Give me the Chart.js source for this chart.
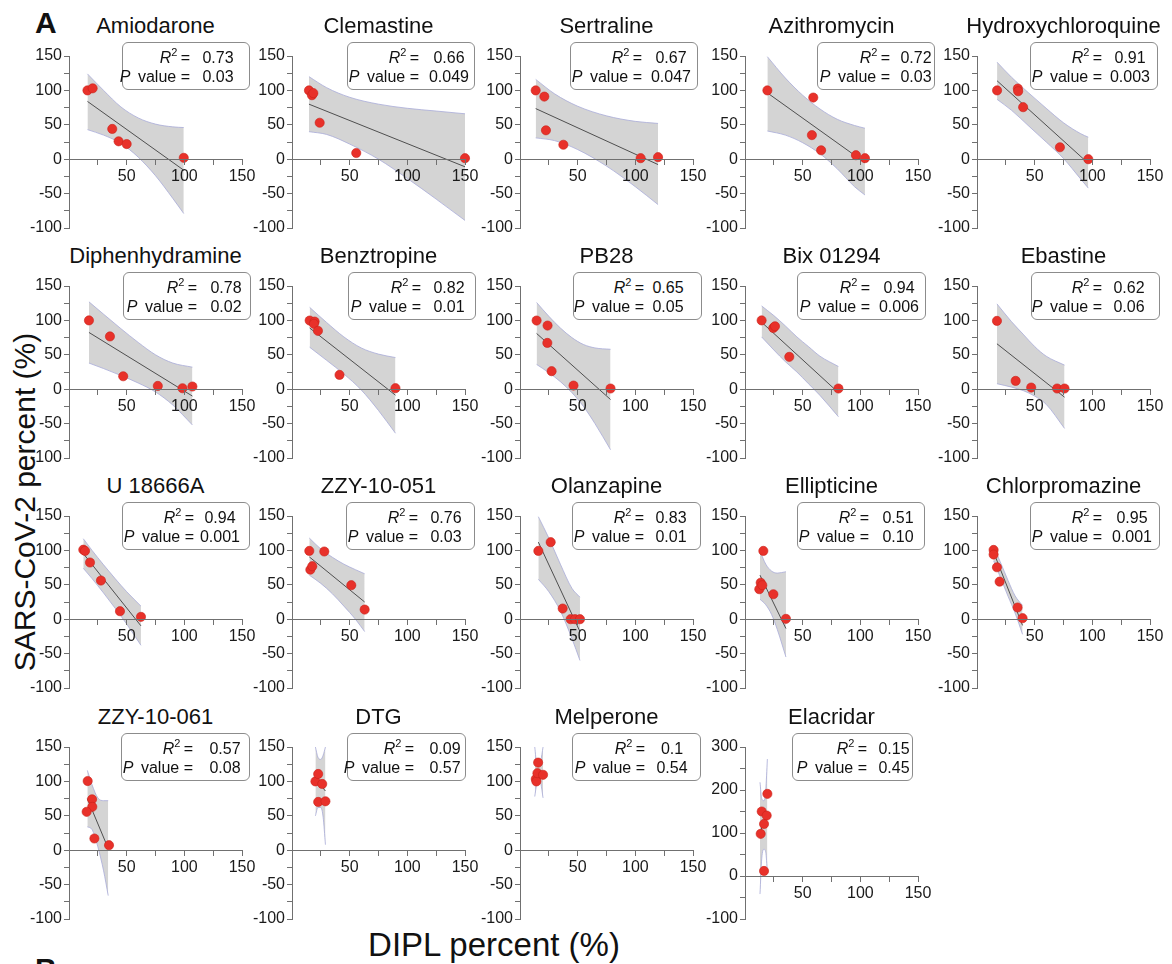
<!DOCTYPE html>
<html>
<head>
<meta charset="utf-8">
<script src="https://cdn.jsdelivr.net/npm/chart.js@4.4.1/dist/chart.umd.min.js"></script>
<style>
  html, body { margin: 0; padding: 0; background: #fff; }
  body { width: 1172px; height: 964px; overflow: hidden; position: relative;
         font-family: 'Liberation Sans', Arial, Helvetica, sans-serif; color: #111; }
  canvas.panel { position: absolute; }
  .title { position: absolute; width: 240px; text-align: center; font-size: 22px; line-height: 22px; white-space: nowrap; }
  .statbox { position: absolute; box-sizing: border-box; height: 48px; border: 1px solid #8c8c8c; border-radius: 6px; background: #fff; font-size: 16px; }
  .statrow { position: absolute; left: 0; right: 0; height: 19px; line-height: 19px; white-space: nowrap; }
  .lab { position: absolute; top: 0; }
  .val { position: absolute; top: 0; width: 60px; text-align: center; }
  .sup { font-size: 11px; position: relative; top: -7px; }
  .letter { position: absolute; font-weight: bold; font-size: 30px; line-height: 30px; }
  .ylab { position: absolute; font-size: 30px; line-height: 30px; white-space: nowrap; transform: translate(-50%, -50%) rotate(-90deg); }
  .xlab { position: absolute; font-size: 33px; line-height: 33px; white-space: nowrap; transform: translate(-50%, -50%); }
</style>
</head>
<body>
<div class="letter" style="left:35px; top:8px;">A</div>
<div class="letter" style="left:35px; top:954px;">B</div>
<div class="ylab" style="left:25px; top:502px;">SARS-CoV-2 percent (%)</div>
<div class="xlab" style="left:494px; top:944px;">DIPL percent (%)</div>
<script>
// ---------------- data ----------------
const drugNames = ['Amiodarone', 'Clemastine', 'Sertraline', 'Azithromycin', 'Hydroxychloroquine',
  'Diphenhydramine', 'Benztropine', 'PB28', 'Bix 01294', 'Ebastine',
  'U 18666A', 'ZZY-10-051', 'Olanzapine', 'Ellipticine', 'Chlorpromazine',
  'ZZY-10-061', 'DTG', 'Melperone', 'Elacridar'];
const r2Text = ['0.73', '0.66', '0.67', '0.72', '0.91', '0.78', '0.82', '0.65', '0.94', '0.62',
  '0.94', '0.76', '0.83', '0.51', '0.95', '0.57', '0.09', '0.1', '0.15'];
const pText = ['0.03', '0.049', '0.047', '0.03', '0.003', '0.02', '0.01', '0.05', '0.006', '0.06',
  '0.001', '0.03', '0.01', '0.10', '0.001', '0.08', '0.57', '0.54', '0.45'];

const xTickLabels = [50, 100, 150];
const yTickLabels = [-100, -50, 0, 50, 100, 150];
const yTickLabelsElacridar = [-100, 0, 100, 200, 300];

// DIPL percent (x) of each measured drug concentration
const pointsX = [
  [16, 20.5, 37.5, 43, 50, 99.5],
  [14.7, 17.3, 18.5, 24, 55.7, 150],
  [13.6, 21.1, 22.5, 37.6, 104.6, 119.7],
  [19.4, 59.2, 58, 66, 96.2, 104],
  [17.4, 35.4, 35.7, 40, 71.9, 96.5],
  [17.3, 35.5, 47, 77, 98.4, 107],
  [15.3, 19.6, 19, 22.5, 41.2, 89.7],
  [14.4, 23.9, 23.7, 27.4, 46.4, 78.5],
  [14.4, 24.5, 26, 38.4, 81],
  [17.3, 33.5, 47, 69.5, 75.9],
  [12.4, 13.9, 18.2, 27.7, 44.2, 62.4],
  [15, 15.9, 17.6, 28, 51.4, 63],
  [15.9, 26.6, 37, 43.9, 47.7, 52],
  [15.9, 13.6, 12.4, 15, 24.6, 35.5],
  [14.4, 14.4, 17.3, 19.6, 35.2, 39.5],
  [16.2, 20, 20.2, 15.3, 22, 34.7],
  [20.3, 22.7, 26.2, 22.7, 29],
  [13.7, 14.2, 15.7, 15.1, 20],
  [13.6, 14.5, 18.8, 16.5, 19.4, 16.5]
];
// SARS-CoV-2 percent (y)
const pointsY = [
  [100, 103, 44, 26, 22, 2],
  [100, 93, 96, 53, 9, 1.5],
  [100, 91, 42, 21, 1.5, 3],
  [100, 89.6, 35, 13, 5.8, 1.5],
  [100, 102.7, 98.8, 75.6, 17.4, 0],
  [100, 76.7, 18.8, 4.8, 1.4, 3.9],
  [99.8, 98.3, 95, 84.8, 20.8, 1.5],
  [99.8, 92.5, 67.3, 26.2, 5.3, 1],
  [100, 89, 91.5, 47, 1],
  [99.3, 12.1, 2.4, 1, 1],
  [101, 99.3, 82.4, 56.2, 11.6, 3.4],
  [99.3, 72, 77, 98.4, 49.4, 14],
  [99.3, 112, 15.5, 0, 0, 0],
  [99.3, 53, 43.6, 49.4, 36.3, 0.5],
  [100.7, 94, 75.5, 54.6, 17, 1.5],
  [100.5, 74, 63, 55.8, 17, 7.3],
  [100, 110.8, 96.3, 70.2, 71.1],
  [103.5, 100, 127.3, 112, 109.6],
  [98, 150, 140.6, 121, 191, 11.7]
];
// regression line end points
const fitX = [
  [16, 99.5], [14.7, 150], [13.6, 119.7], [19.4, 104], [17.4, 96.5],
  [17.3, 107], [15.3, 89.7], [14.4, 78.5], [14.4, 81], [17.3, 75.9],
  [12.4, 62.4], [15, 63], [15.9, 52], [13, 35.5], [14.4, 39.5],
  [15.9, 34], [20.3, 29], [12.8, 20], [13, 19.4]
];
const fitY = [
  [84, -16], [80, -11], [73.6, -7.8], [96.4, -5], [114, -6],
  [82.5, -10], [89, -8.7], [81, -15], [97.4, -5], [66, -11.6],
  [95.4, -9.7], [90.6, 25], [112, -18], [64, -13.6], [97.4, -9],
  [75, 2.5], [104, 86], [102, 112], [100, 150]
];
// confidence band, read at a few x positions
const bandX = [
  [16, 30, 45, 60, 75, 90, 99.5],
  [14.7, 30, 50, 75, 100, 125, 150],
  [13.6, 30, 50, 75, 100, 119.7],
  [19.4, 35, 50, 65, 80, 95, 104],
  [17.4, 30, 45, 60, 75, 90, 96.5],
  [17.3, 30, 45, 60, 75, 90, 107],
  [15.3, 30, 45, 60, 75, 89.7],
  [14.4, 25, 35, 45, 55, 65, 78.5],
  [14.4, 25, 35, 45, 55, 65, 81],
  [17.3, 30, 40, 50, 60, 75.9],
  [12.4, 20, 30, 40, 50, 62.4],
  [15, 25, 35, 45, 55, 63],
  [15.9, 25, 35, 45, 52],
  [13, 18, 23, 28, 35.5],
  [14.4, 20, 27, 33, 39.5],
  [15.9, 20, 25, 30, 34],
  [20.3, 22.5, 25, 27, 29],
  [12.8, 14.5, 16.5, 18, 20],
  [13, 14.5, 16.5, 18, 19.4]
];
const bandUpper = [
  [124, 100, 76, 60, 51, 47, 46],
  [120, 104, 90, 80, 74, 70, 66],
  [116, 95, 77, 63, 55, 52],
  [149, 118, 93, 73, 58, 49, 45],
  [141, 119, 96, 74, 53, 37, 32],
  [127, 109, 88, 68, 50, 38, 32],
  [119, 97, 76, 60, 51, 46],
  [126, 106, 89, 75, 65, 60, 58],
  [121, 107, 92, 76, 62, 48, 33],
  [124, 98, 80, 62, 48, 35],
  [117, 100, 79, 59, 40, 19],
  [118, 102, 90, 80, 72, 66],
  [149, 118, 80, 45, 32],
  [99, 80, 70, 67, 69],
  [105, 84, 56, 34, 20],
  [116, 95, 76, 72, 72],
  [150, 135, 132, 138, 150],
  [150, 126, 124, 130, 150],
  [218, 180, 175, 200, 272]
];
const bandLower = [
  [43, 35, 23, 3, -24, -57, -79],
  [40, 36, 22, 0, -28, -58, -89],
  [31, 27, 14, -10, -40, -66],
  [41, 35, 24, 8, -14, -40, -52],
  [87, 71, 48, 25, 1, -29, -42],
  [38, 30, 20, 9, -4, -23, -52],
  [61, 42, 22, -1, -31, -64],
  [36, 24, 11, -5, -25, -50, -88],
  [76, 57, 40, 25, 8, -9, -40],
  [8, 3, -2, -10, -22, -57],
  [74, 59, 38, 16, -7, -38],
  [64, 52, 37, 19, 0, -18],
  [58, 40, 12, -28, -60],
  [29, 21, 7, -15, -55],
  [85, 62, 33, 9, -22],
  [34, 30, 5, -30, -66],
  [50, 62, 62, 48, 8],
  [78, 96, 100, 97, 76],
  [-42, 40, 62, 55, 10]
];

// ---------------- layout (positions / styles) ----------------
const colLeft = [69, 292, 520, 745, 977];   // pixel of x = 0 (y axis line)
const rowTop = [56, 286, 516, 747];         // pixel of the top of the y axis
const PLOT_W = 173, PLOT_H = 172;
const PAD_L = 5, PAD_T = 12, PAD_R = 18, PAD_B = 12, Y_AXIS_W = 40;
const boxOffset = [53, 55, 50, 72, 53, 54, 56, 53, 52, 54, 53, 54, 52, 52, 53, 52, 55, 52, 47];
const boxWidth = [128, 128, 128, 118, 128, 128, 128, 129, 129, 129, 128, 129, 129, 128, 130, 129, 119, 129, 121];
const labelEnd = [68, 72, 72, 73, 72, 74, 73, 71, 73, 71, 72, 72, 72, 72, 72, 72, 67, 73, 75];
const valueCenter = [96, 102, 101, 99, 100, 103, 101, 95, 102, 98, 98, 100, 99, 101, 102, 104, 98, 100, 102];
const AXIS_COLOR = '#707070';
const TICK_COLOR = '#1a1a1a';

Chart.defaults.font.family = "'Liberation Sans', Arial, Helvetica, sans-serif";

function toXY(xs, ys) { return xs.map((x, k) => ({ x: x, y: ys[k] })); }

function buildPanel(i) {
  const col = i % 5, row = Math.floor(i / 5);
  const axisX = colLeft[col], top = rowTop[row];
  const isElacridar = drugNames[i] === 'Elacridar';
  const yLabels = isElacridar ? yTickLabelsElacridar : yTickLabels;
  const yStep = isElacridar ? 50 : 25;

  const canvas = document.createElement('canvas');
  canvas.className = 'panel';
  canvas.width = PAD_L + Y_AXIS_W + PLOT_W + PAD_R;
  canvas.height = PAD_T + PLOT_H + PAD_B;
  canvas.style.left = (axisX - PAD_L - Y_AXIS_W) + 'px';
  canvas.style.top = (top - PAD_T) + 'px';
  document.body.appendChild(canvas);

  new Chart(canvas, {
    type: 'scatter',
    data: {
      datasets: [
        { data: toXY(pointsX[i], pointsY[i]), showLine: false, pointRadius: 4.6,
          pointBackgroundColor: '#e8312a', pointBorderColor: '#c92219', pointBorderWidth: 0.6, clip: false },
        { data: toXY(fitX[i], fitY[i]), showLine: true, pointRadius: 0,
          borderColor: '#4f4f4f', borderWidth: 1, clip: false },
        { data: toXY(bandX[i], bandUpper[i]), showLine: true, pointRadius: 0,
          borderColor: '#a8abd8', borderWidth: 0.8, cubicInterpolationMode: 'monotone',
          fill: '+1', backgroundColor: '#d4d4d4' },
        { data: toXY(bandX[i], bandLower[i]), showLine: true, pointRadius: 0,
          borderColor: '#a8abd8', borderWidth: 0.8, cubicInterpolationMode: 'monotone', fill: false }
      ]
    },
    options: {
      responsive: false, animation: false, events: [],
      layout: { padding: { left: PAD_L, top: PAD_T, right: PAD_R, bottom: PAD_B } },
      plugins: { legend: { display: false }, tooltip: { enabled: false }, filler: { drawTime: 'beforeDatasetsDraw' } },
      scales: {
        x: {
          type: 'linear', min: 0, max: Math.max(...xTickLabels), position: { y: 0 },
          ticks: { z: 1, stepSize: 25, autoSkip: false, maxRotation: 0, padding: 3, color: TICK_COLOR,
                   font: { size: 16 }, callback: v => (xTickLabels.includes(v) ? String(v) : '') },
          grid: { z: 1, drawOnChartArea: false, tickLength: 5, color: AXIS_COLOR, lineWidth: 1 },
          border: { z: 1, color: AXIS_COLOR, width: 1 }
        },
        y: {
          type: 'linear', min: Math.min(...yLabels), max: Math.max(...yLabels), position: 'left',
          ticks: { z: 1, stepSize: yStep, autoSkip: false, padding: 2, color: TICK_COLOR, font: { size: 16 },
                   callback: v => (yLabels.includes(v) ? String(v) : '') },
          grid: { z: 1, drawOnChartArea: false, tickLength: 5, color: AXIS_COLOR, lineWidth: 1 },
          border: { z: 1, color: AXIS_COLOR, width: 1 },
          afterFit: s => { s.width = Y_AXIS_W; }
        }
      }
    }
  });

  // title
  const t = document.createElement('div');
  t.className = 'title';
  t.textContent = drugNames[i];
  t.style.left = (axisX + PLOT_W / 2 - 120) + 'px';
  t.style.top = (top - 41) + 'px';
  document.body.appendChild(t);

  // stats box
  const bw = boxWidth[i];
  const box = document.createElement('div');
  box.className = 'statbox';
  box.style.left = (axisX + boxOffset[i]) + 'px';
  box.style.top = (top - 14) + 'px';
  box.style.width = bw + 'px';
  const rightPos = (bw - 1 - labelEnd[i]) + 'px';
  const valLeft = (valueCenter[i] - 1 - 30) + 'px';
  box.innerHTML =
    '<div class="statrow" style="top:4.5px"><span class="lab" style="right:' + rightPos + '"><i>R</i><span class="sup">2</span>&thinsp;=</span>' +
    '<span class="val" style="left:' + valLeft + '">' + r2Text[i] + '</span></div>' +
    '<div class="statrow" style="top:23.5px"><span class="lab" style="right:' + rightPos + '"><i>P</i><span style="margin-left:3px"> value =</span></span>' +
    '<span class="val" style="left:' + valLeft + '">' + pText[i] + '</span></div>';
  document.body.appendChild(box);
}

for (let i = 0; i < drugNames.length; i++) buildPanel(i);
</script>
</body>
</html>
